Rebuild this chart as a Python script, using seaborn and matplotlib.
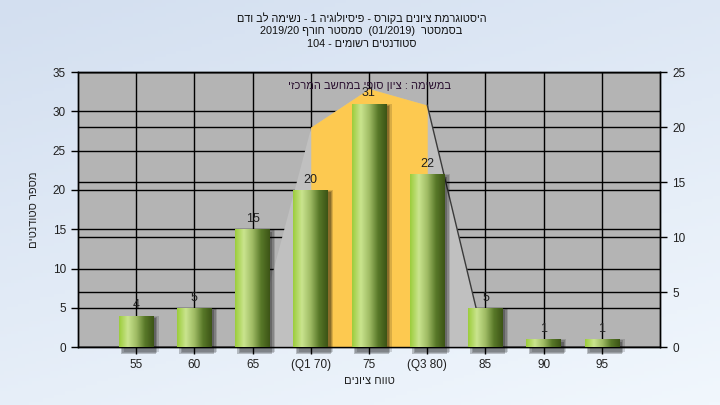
import re
import numpy as np
import pandas as pd
import matplotlib
matplotlib.use("Agg")
import matplotlib.pyplot as plt
import seaborn as sns
from matplotlib.colors import LinearSegmentedColormap
from matplotlib.patches import Rectangle

# ── данные ────────────────────────────────────────────────────────
grade_labels = ["55", "60", "65", "(Q1 70)", "75", "(Q3 80)", "85", "90", "95"]
student_counts = [4, 5, 15, 20, 31, 22, 5, 1, 1]

# контур распределения (правая ось)
curve_idx = [2, 3, 4, 5, 6]
curve_vals = [0, 20, 23.5, 22, 0]
iqr_idx = [3, 4, 5]
iqr_vals = [20, 23.5, 22]

title_lines = [
    "היסטוגרמת ציונים בקורס - פיסיולוגיה 1 - נשימה לב ודם",
    "בסמסטר  (01/2019)  סמסטר חורף 2019/20",
    "סטודנטים רשומים - 104",
]
note_text = "במשימה : ציון סופי במחשב המרכזי"
y_title = "מספר סטודנטים"
x_title = "טווח ציונים"

left_ticks = [0, 5, 10, 15, 20, 25, 30, 35]
right_ticks = [0, 5, 10, 15, 20, 25]


def vis(s):
    """Простой bidi: разворот строки, LTR-фрагменты обратно, скобки зеркалим."""
    r = s[::-1]
    r = r.translate(str.maketrans("()", ")("))
    return re.sub(r"[0-9A-Za-z/]+", lambda m: m.group(0)[::-1], r)


sns.set_style("ticks")
plt.rcParams["font.family"] = ["Liberation Sans", "DejaVu Sans"]

fig = plt.figure(figsize=(7.2, 4.05), dpi=100)

# фон с градиентом
bg = fig.add_axes([0, 0, 1, 1], zorder=-10)
gx, gy = np.meshgrid(np.linspace(0, 1, 200), np.linspace(0, 1, 120))
bg.imshow(0.65 * gy + 0.35 * gx, cmap=LinearSegmentedColormap.from_list(
    "bg", ["#d3dff0", "#f1f7fd"]), aspect="auto", extent=[0, 1, 0, 1])
bg.axis("off")

ax = fig.add_axes([0.108, 0.143, 0.809, 0.679])
ax2 = ax.twinx()
ax.set_zorder(2)
ax2.set_zorder(1)
ax.patch.set_visible(False)
ax2.patch.set_visible(True)
ax2.patch.set_facecolor("#b4b4b4")

df = pd.DataFrame({"grade": grade_labels, "count": student_counts})
sns.barplot(data=df, x="grade", y="count", ax=ax, width=0.6,
            color="#8fb04a", saturation=1, zorder=3)

ax.set_xlim(-1, 9)
ax.set_ylim(0, 35)
ax2.set_ylim(0, 25)
ax.set_yticks(left_ticks)
ax2.set_yticks(right_ticks)

# сетка
ax.set_axisbelow(True)
ax.grid(True, color="black", linewidth=1)
ax2.grid(True, axis="y", color="black", linewidth=1)

# контур и межквартильная область
ax.fill_between(curve_idx, curve_vals, color="#c0c0c0", linewidth=0,
                transform=ax2.transData, zorder=1)
ax.fill_between(iqr_idx, iqr_vals, color="#fdc950", linewidth=0,
                transform=ax2.transData, zorder=1.1)
ax.plot(curve_idx[3:], curve_vals[3:], color="#3a3a3a", linewidth=1,
        transform=ax2.transData, zorder=1.2)

# столбцы-цилиндры с градиентом и тенью
green = LinearSegmentedColormap.from_list(
    "cyl", ["#9ccd3c", "#cae48e", "#9fbb64", "#587828", "#3c5416"])
grad = np.linspace(0, 1, 100).reshape(1, -1)
for p in ax.patches[:len(student_counts)]:
    x0, w, h = p.get_x(), p.get_width(), p.get_height()
    p.set_edgecolor("none")
    for k, a in enumerate([0.22, 0.18, 0.14]):
        ax.add_patch(Rectangle((x0 + 0.04 + 0.025 * k, -0.9 + 0.15 * k), w, h + 0.6,
                               color="black", alpha=a, linewidth=0,
                               zorder=2.5, clip_on=False))
    im = ax.imshow(grad, cmap=green, aspect="auto",
                   extent=[x0, x0 + w, 0, h], zorder=3)
    im.set_clip_path(p)

ax.set_xlim(-1, 9)
ax.set_ylim(0, 35)

ax.bar_label(ax.containers[0], padding=3, fontsize=9, color="#202020")

# оформление осей
for a in (ax, ax2):
    for s in a.spines.values():
        s.set_color("black")
        s.set_linewidth(1)
ax.tick_params(axis="both", length=5, width=1, color="black",
               labelsize=8.5, labelcolor="#202020")
ax2.tick_params(axis="y", length=5, width=1, color="black",
                labelsize=8.5, labelcolor="#202020")

ax.set_xlabel(vis(x_title), fontsize=8, labelpad=4, color="#202020")
ax.set_ylabel(vis(y_title), fontsize=8, labelpad=10, color="#202020")
ax2.set_ylabel("")

ax.text(0.5, 0.949, vis(note_text), transform=ax.transAxes, ha="center",
        va="center", fontsize=8, color="#2a1030", zorder=5)

fig.text(0.502, 0.970, "\n".join(vis(t) for t in title_lines), ha="center",
         va="top", fontsize=7.8, linespacing=1.3, color="#101010")

fig.savefig("out.png", dpi=100)
